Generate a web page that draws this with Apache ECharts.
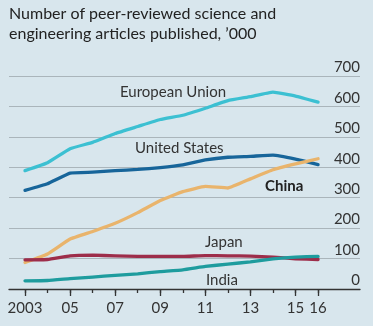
<!DOCTYPE html>
<html><head><meta charset="utf-8">
<script src="https://cdn.jsdelivr.net/npm/echarts@6/dist/echarts.min.js"></script>
<style>html,body{margin:0;padding:0;background:#d8e6ed;}#c{width:373px;height:326px;}</style>
</head><body><div id="c"></div>
<script>
const years = [2003,2004,2005,2006,2007,2008,2009,2010,2011,2012,2013,2014,2015,2016];
const labeledYears = [2003,2005,2007,2009,2011,2013,2015,2016];
const yTicks = [0,100,200,300,400,500,600,700];
const eu    = [389,415,461,482,511,534,557,571,594,619,632,647,634,614];
const us    = [324,346,381,384,389,393,399,408,424,433,436,440,427,409];
const china = [ 87,115,164,189,216,251,291,320,337,332,362,392,411,428];
const japan = [ 96, 97,109,111,109,107,107,107,110,109,108,105, 99, 97];
const india = [ 27, 28, 34, 39, 45, 50, 57, 63, 74, 82, 89, 99,105,107];

const pair = arr => years.map((y,i)=>[y,arr[i]]);
const font = 'Lato, "Open Sans", sans-serif';
const txt = '#333';
const chart = echarts.init(document.getElementById('c'), null, {renderer:'canvas'});
function line(name, data, color){
  return {name, type:'line', data:pair(data), showSymbol:false, smooth:0.1,
    lineStyle:{color, width:3.3, cap:'round', join:'round'}, z:3};
}
chart.setOption({
  backgroundColor:'#d8e6ed',
  animation:false,
  title:{text:'Number of peer-reviewed science and\nengineering articles published, \u2019000',
    left:9, top:4, padding:0,
    textStyle:{fontFamily:font, fontSize:16, fontWeight:'normal', color:'#222', lineHeight:20}},
  grid:{left:9, right:13, top:76, bottom:37},
  xAxis:[{type:'value', min:2002.29, max:2017.86,
    axisLine:{show:true, lineStyle:{color:'#333', width:1.3}},
    splitLine:{show:false},
    axisTick:{show:true, length:7, lineStyle:{color:'#333', width:1.3}, customValues:labeledYears},
    axisLabel:{customValues:labeledYears, margin:12, fontFamily:font, fontSize:15, color:txt,
      formatter:v=> v===2003 ? '2003' : String(v).slice(2)}},
   {type:'value', min:2002.29, max:2017.86, position:'bottom',
    axisLine:{show:false}, splitLine:{show:false},
    axisTick:{show:true, length:4, lineStyle:{color:'#333', width:1.3}, customValues:years},
    axisLabel:{show:false}}],
  yAxis:{type:'value', min:0, max:700, interval:100, position:'right',
    axisLine:{show:false}, axisTick:{show:false},
    splitLine:{lineStyle:{color:'#aab5bb', width:1}},
    axisLabel:{inside:true, margin:0, fontFamily:font, fontSize:15, color:txt,
      verticalAlign:'bottom', padding:[0,0,1,0],
      customValues:yTicks}},
  series:[
    line('European Union', eu, '#3cc0d2'),
    line('United States', us, '#17659a'),
    line('China', china, '#e9b46c'),
    line('Japan', japan, '#9d2d4a'),
    line('India', india, '#1e9c9e')
  ],
  graphic:[
    {type:'text', left:120, top:85, style:{text:'European Union', font:'15px '+font, fill:txt}},
    {type:'text', left:135, top:141, style:{text:'United States', font:'15px '+font, fill:txt}},
    {type:'text', left:265, top:179, style:{text:'China', font:'bold 15px '+font, fill:'#222'}},
    {type:'text', left:205, top:235, style:{text:'Japan', font:'15px '+font, fill:txt}},
    {type:'text', left:206, top:273, style:{text:'India', font:'15px '+font, fill:txt}}
  ]
});
</script></body></html>
